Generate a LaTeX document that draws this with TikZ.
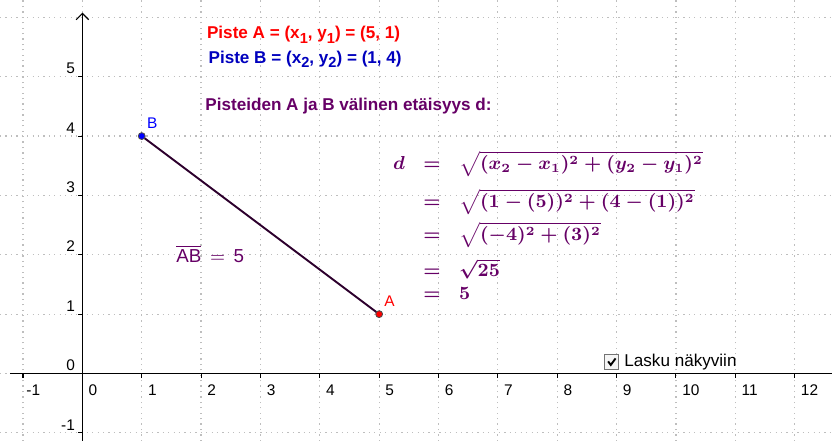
\documentclass[tikz,border=0pt]{standalone}
\usepackage{fontspec}
\setmainfont{Liberation Sans}
\usetikzlibrary{arrows.meta,calc}
\definecolor{pur}{RGB}{102,0,102}
\definecolor{segc}{RGB}{45,0,45}
\definecolor{ptA}{RGB}{255,0,0}
\definecolor{ptB}{RGB}{0,0,255}
\definecolor{txtB}{RGB}{0,0,190}
\definecolor{gridc}{RGB}{190,190,190}
\newcommand{\mysubidx}[1]{\raisebox{-0.5ex}{\fontsize{7}{8}\selectfont #1}}
\tikzset{
  gridline/.style={gridc, dotted, line width=0.6pt},
  axisline/.style={black, line width=0.55pt},
  ticklabel/.style={inner sep=0pt, font=\fontsize{7.4}{9}\selectfont},
  titletext/.style={inner sep=0pt, anchor=base west, font=\fontsize{8.2}{10}\selectfont\bfseries},
  seg/.style={segc, line width=0.9pt},
  ptlabel/.style={inner sep=0pt, anchor=south west, font=\fontsize{7.4}{9}\selectfont},
}
\begin{document}
\begin{tikzpicture}[x=1cm,y=1cm]
\useasboundingbox[fill=white] (-1.388,-1.137) rectangle (12.63,6.293);
% grid
\foreach \x in {-1,...,12} \draw[gridline] (\x,-1.137) -- (\x,6.293);
\foreach \y in {-1,...,6} \draw[gridline] (-1.388,\y) -- (12.63,\y);
% axes
\draw[axisline] (-1.22,0) -- (12.63,0);
\draw[axisline,-{Straight Barb[length=3pt,width=6pt]}] (0,-1.137) -- (0,6.08);
\foreach \x in {-1,1,2,...,12} \draw[axisline] (\x,0) -- (\x,-0.07);
\foreach \y in {-1,1,2,...,5} \draw[axisline] (0,\y) -- (-0.08,\y);
% x labels
\node[ticklabel, anchor=north west] (xm1) at (-0.95,-0.18) {-1};
\foreach \x in {0,...,12} \node[ticklabel, anchor=north west] (x\x) at (\x+0.1,-0.18) {\x};
% y labels
\node[ticklabel, anchor=south east] (ym1) at (-0.12,-0.97) {-1};
\foreach \y in {0,...,5} \node[ticklabel, anchor=south east] (y\y) at (-0.12,\y+0.04) {\y};
% points and segment
\coordinate (A) at (5,1);
\coordinate (B) at (1,4);
\draw[seg] (A) -- (B);
\fill[ptA, draw=black!70, line width=0.4pt] (A) circle (0.058);
\fill[ptB, draw=black!70, line width=0.4pt] (B) circle (0.058);
\node[ptlabel, text=ptB] (Blab) at (1.083,4.12) {B};
\node[ptlabel, text=ptA] (Alab) at (5.08,1.12) {A};
% AB label
\node[inner sep=0pt, anchor=base west, text=pur, font=\fontsize{9}{11}\selectfont] (ablab) at (1.577,1.867) {$\overline{\mbox{AB}}\,=\,\mbox{5}$};
% titles
\node[titletext, text=ptA] (tA) at (2.094,5.636) {Piste A = (x\mysubidx{1}, y\mysubidx{1}) = (5, 1)};
\node[titletext, text=txtB] (tB) at (2.12,5.227) {Piste B = (x\mysubidx{2}, y\mysubidx{2}) = (1, 4)};
\node[titletext, text=pur] (tC) at (2.066,4.428) {Pisteiden A ja B välinen etäisyys d:};
% formula
\node[inner sep=0pt, anchor=base west, text=pur, font=\fontsize{9}{11}\selectfont\boldmath] (formula) at (5.23,3.43)
{$\begin{array}[t]{@{}r@{\;\;\;}c@{\;\;\;}l@{}}
d & = & \sqrt{(x_2-x_1)^2+(y_2-y_1)^2}\\[5.8pt]
  & = & \sqrt{(1-(5))^2+(4-(1))^2}\\[3.4pt]
  & = & \sqrt{(-4)^2+(3)^2}\\[5.3pt]
  & = & \sqrt{25}\\
  & = & 5
\end{array}$};
% checkbox
\node[draw=black!55, fill=black!4, line width=0.5pt, minimum size=0.24cm, inner sep=0pt] (cb) at (8.918,0.194) {};
\draw[black, line width=0.9pt] ($(cb.center)+(-0.06,0.01)$) -- ($(cb.center)+(-0.015,-0.05)$) -- ($(cb.center)+(0.065,0.06)$);
\node[inner sep=0pt, anchor=base west, font=\fontsize{8.2}{10}\selectfont] (cbtext) at (9.125,0.115) {Lasku näkyviin};
\end{tikzpicture}
\end{document}
